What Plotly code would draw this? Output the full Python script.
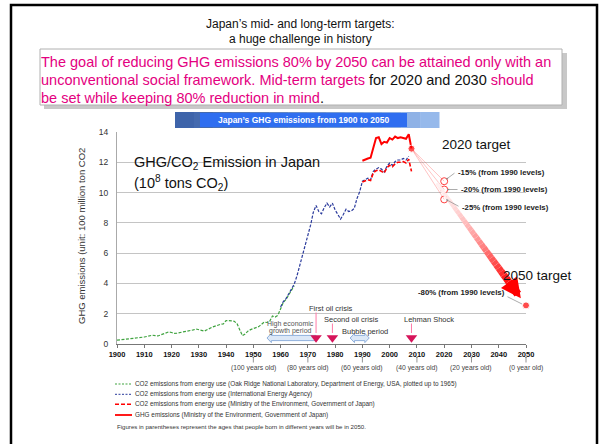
import plotly.graph_objects as go

# ---------------- data ----------------
green_years = list(range(1900, 1966))
green_vals = [0.25, 0.27, 0.28, 0.30, 0.31, 0.33, 0.35, 0.38, 0.40, 0.42,
              0.46, 0.50, 0.53, 0.58, 0.55, 0.53, 0.60, 0.68, 0.72, 0.80,
              0.76, 0.70, 0.72, 0.75, 0.80, 0.82, 0.84, 0.88, 0.93, 0.99,
              0.95, 0.87, 0.85, 0.94, 1.04, 1.12, 1.18, 1.25, 1.30, 1.33,
              1.55, 1.55, 1.53, 1.50, 1.35, 0.90, 0.55, 0.66, 0.85, 0.95,
              1.00, 1.08, 1.15, 1.30, 1.45, 1.42, 1.50, 1.85, 1.78, 1.90,
              2.35, 2.75, 2.95, 3.25, 3.60, 3.85]
blue_years = list(range(1960, 2008))
blue_vals = [2.45, 2.80, 3.00, 3.30, 3.65, 3.95, 4.50, 5.15, 5.85, 6.45,
             7.05, 7.85, 8.70, 9.15, 8.75, 8.60, 9.00, 9.30, 9.05, 9.30,
             8.85, 8.50, 8.25, 8.55, 8.90, 8.75, 8.80, 8.95, 9.60, 10.05,
             10.75, 10.85, 10.95, 10.85, 11.40, 11.55, 11.65, 11.55, 11.35, 11.75,
             11.95, 11.80, 12.05, 12.15, 12.15, 12.25, 12.15, 12.40]
moe_years = list(range(1990, 2009))
moe_co2 = [10.70, 10.80, 10.85, 10.80, 11.30, 11.45, 11.50, 11.40, 11.30, 11.65,
           11.80, 11.70, 11.90, 12.00, 12.00, 12.05, 11.95, 12.20, 11.40]
ghg_vals = [12.10, 12.20, 12.25, 12.30, 13.00, 13.60, 13.65, 13.20, 13.35, 13.30,
            13.60, 13.50, 13.70, 13.60, 13.65, 13.60, 13.55, 13.85, 12.90]

base_year = 2008
base_val = 12.90
mid_year = 2020
mid_vals = [10.75, 10.20, 9.55]
mid_labels = ["-15% (from 1990 levels)", "-20% (from 1990 levels)", "-25% (from 1990 levels)"]
long_year = 2050
long_val = 2.55
long_label = "-80% (from 1990 levels)"

x_ticks = list(range(1900, 2051, 10))
y_ticks = list(range(0, 15, 2))
age_years = [1950, 1970, 1990, 2010, 2030, 2050]
age_labels = ["(100 years old)", "(80 years old)", "(60 years old)",
              "(40 years old)", "(20 years old)", "(0 year old)"]
event_years = [1973, 1979, 2008]
event_labels = ["First oil crisis", "Second oil crisis", "Lehman Shock"]
growth_period = [1955, 1973]
bubble_period = [1985.5, 1992.5]

legend_labels = [
    "CO2 emissions from energy use (Oak Ridge National Laboratory, Department of Energy, USA, plotted up to 1965)",
    "CO2 emissions from energy use (International Energy Agency)",
    "CO2 emissions from energy use (Ministry of the Environment, Government of Japan)",
    "GHG emissions (Ministry of the Environment, Government of Japan)",
]
note_text = "Figures in parentheses represent the ages that people born in different years will be in 2050."

# ---------------- layout helpers ----------------
W, H = 600, 444
PL, PR, PT, PB = 117, 526, 132, 344
FONT = "Liberation Sans, Arial, sans-serif"
RED = "#ff0000"
PINK = "#e4007f"
GREEN = "#3fa33f"
BLUE = "#2a3a9c"


def px(x):
    return (x - PL) / (PR - PL)


def py(y):
    return (PB - y) / (PB - PT)


fig = go.Figure()

fig.add_trace(go.Scatter(x=green_years, y=green_vals, mode="lines",
                         line=dict(color=GREEN, width=1.2, dash="3px,1.5px"), hoverinfo="skip"))
fig.add_trace(go.Scatter(x=blue_years, y=blue_vals, mode="lines",
                         line=dict(color=BLUE, width=1.2, dash="3px,1.5px"), hoverinfo="skip"))
fig.add_trace(go.Scatter(x=moe_years, y=moe_co2, mode="lines",
                         line=dict(color=RED, width=1.6, dash="4px,2px"), hoverinfo="skip"))
fig.add_trace(go.Scatter(x=moe_years, y=ghg_vals, mode="lines",
                         line=dict(color=RED, width=2), hoverinfo="skip"))

shapes = []
annotations = []

# thin lines from 2008 to 2020 targets
for v in mid_vals:
    shapes.append(dict(type="line", xref="x", yref="y", x0=base_year, y0=base_val,
                       x1=mid_year, y1=v, line=dict(color="rgba(255,70,70,0.4)", width=0.8)))

# thick gradient arrow from 2008 to 2050
N = 30
t0, t1 = 0.22, 0.87
for i in range(N):
    a = t0 + (t1 - t0) * i / N
    b = t0 + (t1 - t0) * (i + 1) / N
    s = (i + 0.5) / N
    g = int(242 * (1 - s ** 1.6))
    xa = base_year + (long_year - base_year) * a
    ya = base_val + (long_val - base_val) * a
    xb = base_year + (long_year - base_year) * b
    yb = base_val + (long_val - base_val) * b
    shapes.append(dict(type="line", xref="x", yref="y", x0=xa, y0=ya, x1=xb, y1=yb,
                       line=dict(color=f"rgb(255,{g},{g})", width=3.5 + 4 * s)))
ta, tb = 0.86, 0.955
annotations.append(dict(
    xref="x", yref="y", axref="x", ayref="y",
    x=base_year + (long_year - base_year) * tb, y=base_val + (long_val - base_val) * tb,
    ax=base_year + (long_year - base_year) * ta, ay=base_val + (long_val - base_val) * ta,
    text="", showarrow=True, arrowhead=2, arrowsize=0.5, arrowwidth=8, arrowcolor=RED))

# target markers
fig.add_trace(go.Scatter(x=[mid_year] * 3, y=mid_vals, mode="markers",
                         marker=dict(symbol="circle-open", size=7, color="#ff4040", line=dict(width=1)),
                         cliponaxis=False, hoverinfo="skip"))
fig.add_trace(go.Scatter(x=[base_year, long_year], y=[base_val, long_val], mode="markers",
                         marker=dict(size=[7, 7], color=RED), cliponaxis=False, hoverinfo="skip"))

# event triangles
fig.add_trace(go.Scatter(x=event_years, y=[0.42] * 3, mode="markers",
                         marker=dict(symbol="triangle-down", size=10, color="#d6145a"),
                         cliponaxis=False, hoverinfo="skip"))

# period arrows
yc = py(338)
hb = 2.6 / (PB - PT)
hh = 4.6 / (PB - PT)
hl = 1.6
g0, g1 = growth_period
shapes.append(dict(type="path", xref="x", yref="paper", layer="below",
                   path=(f"M {g0},{yc} L {g0 + hl},{yc + hh} L {g0 + hl},{yc + hb} L {g1},{yc + hb} "
                         f"L {g1},{yc - hb} L {g0 + hl},{yc - hb} L {g0 + hl},{yc - hh} Z"),
                   fillcolor="#dce8f7", line=dict(color="#8fb0dc", width=1)))
b0, b1 = bubble_period
shapes.append(dict(type="path", xref="x", yref="paper", layer="below",
                   path=(f"M {b0},{yc} L {b0 + hl},{yc + hh} L {b0 + hl},{yc + hb} L {b1 - hl},{yc + hb} "
                         f"L {b1 - hl},{yc + hh} L {b1},{yc} L {b1 - hl},{yc - hh} L {b1 - hl},{yc - hb} "
                         f"L {b0 + hl},{yc - hb} L {b0 + hl},{yc - hh} Z"),
                   fillcolor="#dce8f7", line=dict(color="#8fb0dc", width=1)))

# event labels and pink pointer lines
event_label_pos = [(331, 308), (351, 319), (428.5, 319)]
for yr, lab, (lx, ly) in zip(event_years, event_labels, event_label_pos):
    annotations.append(dict(xref="paper", yref="paper", x=px(lx), y=py(ly), text=lab,
                            showarrow=False, font=dict(family=FONT, size=7.5, color="#333")))
    shapes.append(dict(type="line", xref="x", yref="paper", x0=yr, x1=yr,
                       y0=py(ly + 4.5), y1=py(333), line=dict(color="#ff7aa8", width=1)))
annotations.append(dict(xref="paper", yref="paper", x=px(364.5), y=py(331), text="Bubble period",
                        showarrow=False, font=dict(family=FONT, size=7.5, color="#333")))
annotations.append(dict(xref="paper", yref="paper", x=px(290), y=py(324), text="High economic",
                        showarrow=False, font=dict(family=FONT, size=7, color="#555")))
annotations.append(dict(xref="paper", yref="paper", x=px(290), y=py(331), text="growth period",
                        showarrow=False, font=dict(family=FONT, size=7, color="#555")))

# age labels under axis
for yr, lab in zip(age_years, age_labels):
    annotations.append(dict(xref="x", yref="paper", x=yr, y=py(367.5), text=lab, showarrow=False,
                            font=dict(family=FONT, size=6.8, color="#444")))
    annotations.append(dict(xref="x", yref="paper", x=yr, y=py(357), ax=0, ay=7, text="",
                            showarrow=True, arrowhead=1, arrowsize=0.5, arrowwidth=0.7,
                            arrowcolor="#666"))

# target labels
mid_label_pos = [(456, 172), (459, 189.5), (460, 207)]
mid_tip = [(446, 179.5), (447, 189.5), (446, 199.5)]
for lab, (lx, ly), (tx, ty) in zip(mid_labels, mid_label_pos, mid_tip):
    annotations.append(dict(xref="paper", yref="paper", x=px(lx), y=py(ly), text=f"<b>{lab}</b>",
                            xanchor="left", showarrow=False, font=dict(family=FONT, size=7.8, color="#222")))
    annotations.append(dict(xref="paper", yref="paper", x=px(tx), y=py(ty), ax=lx - tx, ay=ly - ty,
                            text="", showarrow=True, arrowhead=2, arrowsize=0.6, arrowwidth=0.7,
                            arrowcolor="#888"))
annotations.append(dict(xref="paper", yref="paper", x=px(416), y=py(292.5), text=f"<b>{long_label}</b>",
                        xanchor="left", showarrow=False, font=dict(family=FONT, size=7.8, color="#222")))
annotations.append(dict(xref="paper", yref="paper", x=px(522), y=py(304), ax=-16, ay=-8,
                        text="", showarrow=True, arrowhead=0, arrowwidth=0.7, arrowcolor="#888"))
annotations.append(dict(xref="paper", yref="paper", x=px(440), y=py(144), text="2020 target",
                        xanchor="left", showarrow=False, font=dict(family=FONT, size=13.5, color="#111")))
annotations.append(dict(xref="paper", yref="paper", x=px(501), y=py(275), text="2050 target",
                        xanchor="left", showarrow=False, font=dict(family=FONT, size=13.5, color="#111")))

# in-plot title
annotations.append(dict(xref="paper", yref="paper", x=px(132), y=py(163),
                        text="GHG/CO<sub>2</sub> Emission in Japan", xanchor="left", showarrow=False,
                        font=dict(family=FONT, size=14.5, color="#111")))
annotations.append(dict(xref="paper", yref="paper", x=px(132), y=py(183),
                        text="(10<sup>8</sup> tons CO<sub>2</sub>)", xanchor="left", showarrow=False,
                        font=dict(family=FONT, size=14.5, color="#111")))

# y axis title
annotations.append(dict(xref="paper", yref="paper", x=px(81), y=py(236),
                        text="GHG emissions (unit: 100 million ton CO2", textangle=-90, showarrow=False,
                        font=dict(family=FONT, size=9.5, color="#333")))

# page titles
annotations.append(dict(xref="paper", yref="paper", x=px(300), y=py(24),
                        text="Japan\u2019s mid- and long-term targets:", showarrow=False,
                        font=dict(family=FONT, size=12, color="#111")))
annotations.append(dict(xref="paper", yref="paper", x=px(300), y=py(39),
                        text="a huge challenge in history", showarrow=False,
                        font=dict(family=FONT, size=12, color="#111")))

# pink message box
shapes.append(dict(type="rect", xref="paper", yref="paper", x0=px(44), x1=px(567), y0=py(109), y1=py(53),
                   fillcolor="#c8c8c8", line=dict(width=0), layer="below"))
shapes.append(dict(type="rect", xref="paper", yref="paper", x0=px(40), x1=px(562), y0=py(105), y1=py(49),
                   fillcolor="white", line=dict(color="#b0b0b0", width=1), layer="below"))
sp = lambda t: f'<span style="color:{PINK}">{t}</span>'
msg_lines = [
    sp("The goal of reducing GHG emissions 80% by 2050 can be attained only with an"),
    sp("unconventional social framework. Mid-term targets") + " for 2020 and 2030 " + sp("should"),
    sp("be set while keeping 80% reduction in mind") + ".",
]
for txt, ly in zip(msg_lines, [62, 80, 97.5]):
    annotations.append(dict(xref="paper", yref="paper", x=px(39), y=py(ly), text=txt, xanchor="left",
                            showarrow=False, font=dict(family=FONT, size=14.5, color="#111")))

# banner
nb = 14
bx0, bx1 = 175, 439
for i in range(nb):
    s = i / (nb - 1)
    r = int(62 + (150 - 62) * s)
    gg = int(100 + (185 - 100) * s)
    bb = int(170 + (235 - 170) * s)
    shapes.append(dict(type="rect", xref="paper", yref="paper",
                       x0=px(bx0 + (bx1 - bx0) * i / nb), x1=px(bx0 + (bx1 - bx0) * (i + 1) / nb + 0.5),
                       y0=py(128), y1=py(112), fillcolor=f"rgb({r},{gg},{bb})", line=dict(width=0)))
shapes.append(dict(type="rect", xref="paper", yref="paper", x0=px(200), x1=px(407), y0=py(127), y1=py(113),
                   fillcolor="#2f6ef0", line=dict(width=0)))
annotations.append(dict(xref="paper", yref="paper", x=px(303.5), y=py(120),
                        text="<b>Japan\u2019s GHG emissions from 1900 to 2050</b>", showarrow=False,
                        font=dict(family=FONT, size=8.5, color="white")))

# custom legend
leg_y = [384, 394.3, 404.3, 415]
leg_style = [dict(color=GREEN, width=1, dash="2px,1.5px"), dict(color=BLUE, width=1, dash="2px,1.5px"),
             dict(color=RED, width=1.6, dash="4px,2px"), dict(color=RED, width=1.8)]
for lab, ly, st in zip(legend_labels, leg_y, leg_style):
    shapes.append(dict(type="line", xref="paper", yref="paper", x0=px(115), x1=px(132), y0=py(ly), y1=py(ly),
                       line=st))
    annotations.append(dict(xref="paper", yref="paper", x=px(132.5), y=py(ly), text=lab, xanchor="left",
                            showarrow=False, font=dict(family=FONT, size=6.4, color="#333")))
annotations.append(dict(xref="paper", yref="paper", x=px(114.5), y=py(426.7), text=note_text, xanchor="left",
                        showarrow=False, font=dict(family=FONT, size=6.1, color="#333")))

# outer frame
shapes.append(dict(type="rect", xref="paper", yref="paper", x0=px(11), x1=px(597), y0=py(452), y1=py(5),
                   line=dict(color="black", width=2.5)))

# explicit anchors for text annotations
for a in annotations:
    if not a.get("showarrow", True):
        a.setdefault("xanchor", "center")
        a.setdefault("yanchor", "middle")

fig.update_layout(
    width=W, height=H,
    margin=dict(l=PL, r=W - PR, t=PT, b=H - PB),
    paper_bgcolor="white", plot_bgcolor="white",
    showlegend=False,
    shapes=shapes, annotations=annotations,
    xaxis=dict(range=[1900, 2050], tickvals=x_ticks, ticktext=[f"<b>{t}</b>" for t in x_ticks],
               tickfont=dict(family=FONT, size=7.5, color="#111"), showgrid=False, zeroline=False,
               showline=True, linecolor="#777", linewidth=1, ticks="outside", ticklen=3, tickcolor="#777"),
    yaxis=dict(range=[0, 14], tickvals=y_ticks, tickfont=dict(family=FONT, size=8.5, color="#333"),
               showgrid=True, gridcolor="#c4c4c4", gridwidth=1, zeroline=False,
               showline=True, linecolor="#aaa", linewidth=1, ticks="", ticklabelstandoff=6),
)

fig.write_html("out.html")
